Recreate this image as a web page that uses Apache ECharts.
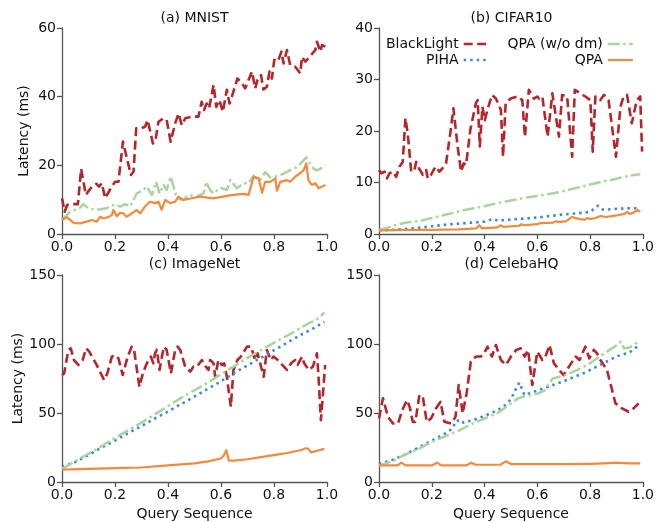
<!DOCTYPE html>
<html>
<head>
<meta charset="utf-8">
<script src="https://cdn.jsdelivr.net/npm/echarts@6/dist/echarts.min.js"></script>
<style>html,body{margin:0;padding:0;background:#fff}#c{width:657px;height:522px}</style>
</head>
<body>
<div id="c"></div>
<script>
// ---------- data ----------
const seriesNames = ['BlackLight', 'PIHA', 'QPA (w/o dm)', 'QPA'];
const panelTitles = ['(a) MNIST', '(b) CIFAR10', '(c) ImageNet', '(d) CelebaHQ'];
const xTicks = [0, 0.2, 0.4, 0.6, 0.8, 1.0];
const yMax = [60, 40, 150, 150];
const yInterval = [20, 10, 50, 50];

// (a) MNIST
const mnistBlackLight = [[0,10.4],[0.01,6.5],[0.02,8.5],[0.04,8.7],[0.06,8.7],[0.072,19],[0.09,11.4],[0.1,12.5],[0.115,14],[0.13,14.6],[0.14,13.8],[0.15,14.8],[0.163,10.4],[0.18,12.8],[0.2,15.2],[0.213,15.2],[0.23,26.9],[0.237,27.4],[0.26,17.2],[0.27,18.2],[0.28,30.8],[0.3,30.8],[0.314,31.3],[0.323,33.2],[0.343,26.4],[0.352,26.9],[0.364,32.7],[0.383,33.7],[0.395,33.2],[0.402,32.7],[0.41,26.9],[0.427,32.2],[0.44,35.1],[0.452,31.7],[0.465,33.7],[0.49,34.2],[0.515,34.2],[0.527,38.5],[0.536,36.1],[0.546,38],[0.555,36.6],[0.572,43.4],[0.582,37],[0.594,39],[0.607,35.6],[0.622,42],[0.632,38],[0.641,40],[0.662,45.3],[0.679,43.9],[0.691,42.4],[0.717,47.3],[0.729,42.4],[0.738,44.9],[0.751,46.3],[0.76,42.1],[0.773,42.9],[0.783,47.3],[0.792,45.3],[0.801,50.7],[0.814,50.2],[0.828,53.1],[0.836,49.7],[0.849,53.6],[0.861,49.2],[0.88,48.7],[0.899,46.8],[0.906,51.6],[0.918,50.2],[0.93,51.2],[0.956,53.6],[0.962,56],[0.975,53.1],[0.981,55],[0.994,54.6]];
const mnistPIHA = [];
const mnistQPAwo = [[0,4],[0.03,6.5],[0.066,7.5],[0.08,8.7],[0.1,7.5],[0.13,7],[0.168,7.5],[0.2,8.7],[0.219,8],[0.238,8.7],[0.257,8],[0.282,11.8],[0.307,12.8],[0.32,13.8],[0.339,11.4],[0.355,15.2],[0.368,11.8],[0.383,14.3],[0.395,12.8],[0.41,16.7],[0.433,10.4],[0.458,9.9],[0.477,11.4],[0.509,10.9],[0.534,11.8],[0.544,15.2],[0.559,12.8],[0.572,11.8],[0.597,13.5],[0.622,12.8],[0.635,15.7],[0.66,13.3],[0.685,14.8],[0.704,14.8],[0.722,16.9],[0.745,15.5],[0.767,18],[0.786,16.5],[0.811,16.8],[0.836,17.6],[0.861,18.6],[0.887,19.5],[0.912,21.5],[0.922,22.3],[0.943,19.5],[0.96,18.5],[0.975,19],[0.994,20.1]];
const mnistQPA = [[0,4],[0.018,4.9],[0.043,3.3],[0.068,3.1],[0.093,3.6],[0.112,4.1],[0.131,3.6],[0.144,5],[0.156,4.6],[0.175,4.9],[0.188,5.5],[0.194,7],[0.207,5.2],[0.219,6.2],[0.232,6],[0.244,5],[0.263,6],[0.282,7],[0.295,6],[0.313,8],[0.332,9.4],[0.351,9],[0.364,9.4],[0.376,7],[0.389,9.9],[0.408,9],[0.427,9.4],[0.439,10.9],[0.458,9.9],[0.49,10.4],[0.521,10.9],[0.572,10.4],[0.622,11.1],[0.647,11.4],[0.685,11.7],[0.704,11.4],[0.723,16.7],[0.742,16.2],[0.755,12],[0.767,15.2],[0.786,15.2],[0.805,16.2],[0.811,12.6],[0.824,15.2],[0.849,15.7],[0.861,15.2],[0.88,16.7],[0.899,17.7],[0.912,18.6],[0.922,20.6],[0.93,15.7],[0.943,14.3],[0.956,14.8],[0.968,13.3],[0.981,13.8],[0.994,14.3]];

// (b) CIFAR10
const cifarBlackLight = [[0,12.4],[0.009,11.8],[0.021,12.1],[0.03,10.8],[0.04,11.8],[0.053,12.1],[0.065,11.1],[0.078,13.1],[0.09,14],[0.1,22.5],[0.109,19.5],[0.122,12.1],[0.134,12.4],[0.141,14],[0.151,12.8],[0.166,11.5],[0.179,12.4],[0.185,10.8],[0.197,11.5],[0.214,13.1],[0.229,12.1],[0.241,12.8],[0.254,13.7],[0.27,19.5],[0.282,24.4],[0.298,17],[0.311,12.1],[0.321,13.7],[0.33,13.4],[0.346,20.2],[0.367,25.4],[0.374,26],[0.382,17],[0.392,24.7],[0.401,22.1],[0.411,24.1],[0.428,27],[0.443,26.3],[0.462,24.1],[0.47,15],[0.48,25.4],[0.499,26.3],[0.524,26.7],[0.543,26],[0.553,18.9],[0.568,28],[0.587,26.3],[0.6,26.7],[0.606,26.3],[0.619,26.7],[0.639,18.9],[0.657,27.3],[0.682,18.9],[0.694,27],[0.713,26.7],[0.732,15],[0.742,28],[0.763,27.3],[0.782,26.7],[0.801,26],[0.81,16],[0.82,26.7],[0.839,26],[0.852,27],[0.87,26],[0.898,15],[0.915,24.7],[0.927,26.7],[0.94,27],[0.958,21.5],[0.965,21.5],[0.977,26],[0.99,26.7],[0.997,16]];
const cifarPIHA = [[0,0.7],[0.05,0.8],[0.1,1],[0.15,1.2],[0.2,1.5],[0.25,1.8],[0.3,2],[0.35,2.2],[0.4,2.4],[0.43,2.9],[0.45,2.6],[0.5,2.8],[0.55,3],[0.6,3.2],[0.65,3.5],[0.7,3.8],[0.75,4],[0.8,4.3],[0.83,5.5],[0.85,4.7],[0.9,4.9],[0.95,5],[0.99,5]];
const cifarQPAwo = [[0,0.8],[0.03,1.2],[0.06,1.7],[0.1,2.2],[0.13,2.4],[0.16,2.6],[0.2,3.1],[0.24,3.6],[0.28,4.1],[0.32,4.6],[0.36,5],[0.4,5.4],[0.44,5.9],[0.48,6.3],[0.52,6.7],[0.56,7.1],[0.6,7.4],[0.64,7.7],[0.68,8.1],[0.72,8.6],[0.76,9.1],[0.8,9.6],[0.84,10.1],[0.88,10.5],[0.92,11],[0.96,11.4],[0.99,11.6]];
const cifarQPA = [[0,0.7],[0.1,0.8],[0.2,0.8],[0.3,0.9],[0.37,1.1],[0.38,1.7],[0.39,1.1],[0.45,1.3],[0.46,1.7],[0.47,1.4],[0.53,1.6],[0.54,1.9],[0.55,1.7],[0.6,1.9],[0.61,2.1],[0.66,2.2],[0.67,2.5],[0.68,2.3],[0.71,2.5],[0.73,3.3],[0.76,2.9],[0.78,2.8],[0.79,3.1],[0.8,2.9],[0.82,3.1],[0.84,3.5],[0.86,3.3],[0.9,3.6],[0.93,3.9],[0.94,4.3],[0.95,3.9],[0.97,4.3],[0.98,4.7],[0.99,4.3]];

// (c) ImageNet
const imagenetBlackLight = [[0,77.5],[0.008,78.7],[0.024,95.7],[0.033,96.9],[0.045,88.4],[0.062,84.8],[0.078,88.4],[0.091,96.9],[0.103,94.5],[0.131,84.8],[0.159,73.9],[0.171,78.7],[0.188,90.9],[0.2,92],[0.213,89.6],[0.229,77.5],[0.248,90.9],[0.263,98.1],[0.272,95.7],[0.292,69],[0.305,78.7],[0.32,86],[0.335,90.9],[0.345,86],[0.351,93.3],[0.358,95.7],[0.368,81.2],[0.377,90.9],[0.385,98.1],[0.395,95.7],[0.402,88.4],[0.411,78.7],[0.427,95.7],[0.436,98.1],[0.446,95.7],[0.465,83.6],[0.484,80],[0.496,83.6],[0.509,83.6],[0.528,88.4],[0.537,84.8],[0.553,81.2],[0.559,88.4],[0.572,86],[0.578,76.3],[0.59,88.4],[0.603,84.8],[0.612,86],[0.622,76.3],[0.637,54.5],[0.647,81.2],[0.662,88.4],[0.675,90.9],[0.698,98.1],[0.713,98.1],[0.729,88.4],[0.738,93.3],[0.761,76.3],[0.773,95.7],[0.788,88.4],[0.798,90.9],[0.814,88.4],[0.849,81.2],[0.864,86],[0.88,88.4],[0.889,84.8],[0.906,90.9],[0.914,86],[0.931,81.2],[0.947,83.6],[0.962,93.3],[0.968,76.3],[0.977,44.8],[0.983,59.4],[0.993,84.8]];
const imagenetPIHA = [[0,11],[0.05,14.5],[0.1,19.5],[0.15,25],[0.2,30],[0.25,35.5],[0.3,40.5],[0.35,46],[0.4,51],[0.45,56.5],[0.5,62],[0.55,67.5],[0.6,73],[0.65,79],[0.7,84.5],[0.75,90],[0.8,95.5],[0.85,101],[0.9,106.5],[0.95,111.5],[0.99,116]];
const imagenetQPAwo = [[0,9.5],[0.05,15],[0.1,20.5],[0.15,26],[0.2,32],[0.25,37.5],[0.3,43],[0.35,49],[0.4,55],[0.45,61],[0.5,66.5],[0.55,72],[0.6,78],[0.65,84],[0.7,90],[0.75,95.5],[0.8,101],[0.85,106],[0.9,111.5],[0.93,115],[0.95,116.5],[0.97,119],[0.99,122.7]];
const imagenetQPA = [[0,9],[0.1,9.5],[0.2,10],[0.3,10.5],[0.4,12],[0.5,13.5],[0.55,15],[0.6,17],[0.61,19],[0.62,23],[0.63,15.5],[0.65,15.5],[0.7,16.5],[0.75,18],[0.8,19.5],[0.85,21],[0.9,23],[0.92,24.5],[0.93,24],[0.94,21.5],[0.97,23],[0.99,24]];

// (d) CelebaHQ
const celebaBlackLight = [[0,46],[0.015,60.6],[0.034,47.2],[0.053,42.4],[0.072,42.4],[0.088,52],[0.106,59.4],[0.116,54.5],[0.128,43.6],[0.138,43.6],[0.153,63],[0.166,61.8],[0.181,43.6],[0.197,46],[0.216,53.3],[0.233,58.1],[0.248,43.6],[0.273,42.4],[0.29,47.2],[0.302,70.3],[0.317,49.7],[0.332,64.2],[0.348,87.2],[0.367,90.9],[0.386,90.9],[0.399,93.3],[0.411,98.1],[0.428,90.9],[0.443,99.3],[0.462,88.4],[0.481,84.8],[0.5,90.9],[0.52,95.7],[0.537,96.9],[0.552,90.9],[0.565,95.7],[0.581,70.3],[0.6,94.5],[0.619,88.4],[0.631,90.9],[0.646,99.3],[0.663,86],[0.688,80],[0.7,77.5],[0.72,83.6],[0.745,90.9],[0.76,88.4],[0.782,98.1],[0.797,89.6],[0.814,95.7],[0.826,93.3],[0.839,88.4],[0.864,81.2],[0.896,57],[0.921,53.3],[0.946,50.9],[0.965,53.3],[0.984,57]];
const celebaPIHA = [[0,13],[0.05,16],[0.1,20],[0.15,25],[0.2,30],[0.25,35],[0.28,39],[0.29,44],[0.31,45],[0.32,43],[0.36,45],[0.4,48],[0.45,52],[0.48,56],[0.5,60],[0.52,68],[0.532,72],[0.551,63],[0.58,65],[0.626,68],[0.7,73],[0.777,79],[0.85,86],[0.9,91],[0.95,94],[0.978,98]];
const celebaQPAwo = [[0,12],[0.05,15],[0.1,20],[0.15,24],[0.2,29],[0.25,33],[0.3,37],[0.35,42],[0.4,46],[0.45,50],[0.475,53.4],[0.526,60.6],[0.55,62],[0.6,64],[0.626,66],[0.658,75],[0.7,77],[0.75,81],[0.8,86],[0.83,90],[0.86,94],[0.9,99],[0.916,101.7],[0.928,97],[0.95,97.5],[0.978,101]];
const celebaQPA = [[0,12],[0.07,12],[0.085,14],[0.1,12],[0.2,12],[0.22,14],[0.235,12],[0.33,12],[0.35,14],[0.365,12.5],[0.46,12.5],[0.48,15],[0.5,13],[0.6,13],[0.7,13],[0.8,13.2],[0.85,13.5],[0.9,14],[0.95,13.5],[0.99,13.5]];

const panelData = [
  [mnistBlackLight, mnistPIHA, mnistQPAwo, mnistQPA],
  [cifarBlackLight, cifarPIHA, cifarQPAwo, cifarQPA],
  [imagenetBlackLight, imagenetPIHA, imagenetQPAwo, imagenetQPA],
  [celebaBlackLight, celebaPIHA, celebaQPAwo, celebaQPA]
];

// ---------- style ----------
const FONT = 'DejaVu Sans';
const colors = ['#b2262c', '#3a8bd1', '#a9d59c', '#f28a3d'];
const lineStyles = [
  {width: 2.6, type: [9, 4.5]},
  {width: 2.6, type: [2.5, 4]},
  {width: 2.5, type: [12, 3.5, 2.5, 3.5]},
  {width: 2.2, type: 'solid'}
];
const grids = [
  {left: 62, top: 28, width: 265, height: 206},
  {left: 379, top: 28, width: 265, height: 206},
  {left: 62, top: 275, width: 265, height: 207},
  {left: 379, top: 275, width: 265, height: 207}
];
const axisColor = '#555';

const xAxes = grids.map((g, i) => ({
  type: 'value', gridIndex: i, min: 0, max: 1, interval: 0.2,
  axisLine: {show: true, lineStyle: {color: axisColor, width: 1.3}},
  axisTick: {show: true, length: 5, lineStyle: {color: axisColor, width: 1.3}},
  splitLine: {show: false},
  axisLabel: {color: '#111', fontSize: 14, fontFamily: FONT, margin: 6,
    formatter: v => v.toFixed(1)},
  name: i >= 2 ? 'Query Sequence' : '',
  nameLocation: 'middle', nameGap: 25,
  nameTextStyle: {color: '#111', fontSize: 14, fontFamily: FONT}
}));
const yAxes = grids.map((g, i) => ({
  type: 'value', gridIndex: i, min: 0, max: yMax[i], interval: yInterval[i],
  axisLine: {show: true, lineStyle: {color: axisColor, width: 1.3}},
  axisTick: {show: true, length: 5, lineStyle: {color: axisColor, width: 1.3}},
  splitLine: {show: false},
  axisLabel: {color: '#111', fontSize: 14, fontFamily: FONT, margin: 6},
  name: (i % 2 === 0) ? 'Latency (ms)' : '',
  nameLocation: 'middle', nameGap: 31,
  nameTextStyle: {color: '#111', fontSize: 14, fontFamily: FONT}
}));

const series = [];
panelData.forEach((arrs, p) => {
  arrs.forEach((d, s) => {
    if (!d.length) return;
    series.push({
      type: 'line', name: seriesNames[s], xAxisIndex: p, yAxisIndex: p,
      data: d, symbol: 'none', showSymbol: false, animation: false,
      color: colors[s],
      lineStyle: Object.assign({color: colors[s], cap: 'butt', join: 'round'}, lineStyles[s]),
      z: 2 + s
    });
  });
});

const legendPos = [
  {right: 167, top: 37}, {right: 167, top: 53},
  {right: 23, top: 37}, {right: 23, top: 53}
];
const legends = seriesNames.map((n, i) => Object.assign({
  data: [n], orient: 'vertical', align: 'right', padding: 0,
  itemWidth: 25, itemHeight: 14, itemGap: 0,
  itemStyle: {opacity: 0},
  lineStyle: {width: lineStyles[i].width, type: lineStyles[i].type, color: colors[i]},
  textStyle: {color: '#111', fontSize: 14, fontFamily: FONT},
  selectedMode: false
}, legendPos[i]));

const titleCenters = [[194.5, 18], [511.5, 18], [194.5, 264], [511.5, 264]];
const graphics = panelTitles.map((t, i) => ({
  type: 'text', x: titleCenters[i][0], y: titleCenters[i][1],
  style: {text: t, fill: '#111', font: '14px "' + FONT + '"', align: 'center', verticalAlign: 'middle'}
}));

const chart = echarts.init(document.getElementById('c'), null, {renderer: 'canvas'});
chart.setOption({
  backgroundColor: '#fff',
  animation: false,
  grid: grids,
  xAxis: xAxes,
  yAxis: yAxes,
  legend: legends,
  graphic: graphics,
  series: series
});
</script>
</body>
</html>
